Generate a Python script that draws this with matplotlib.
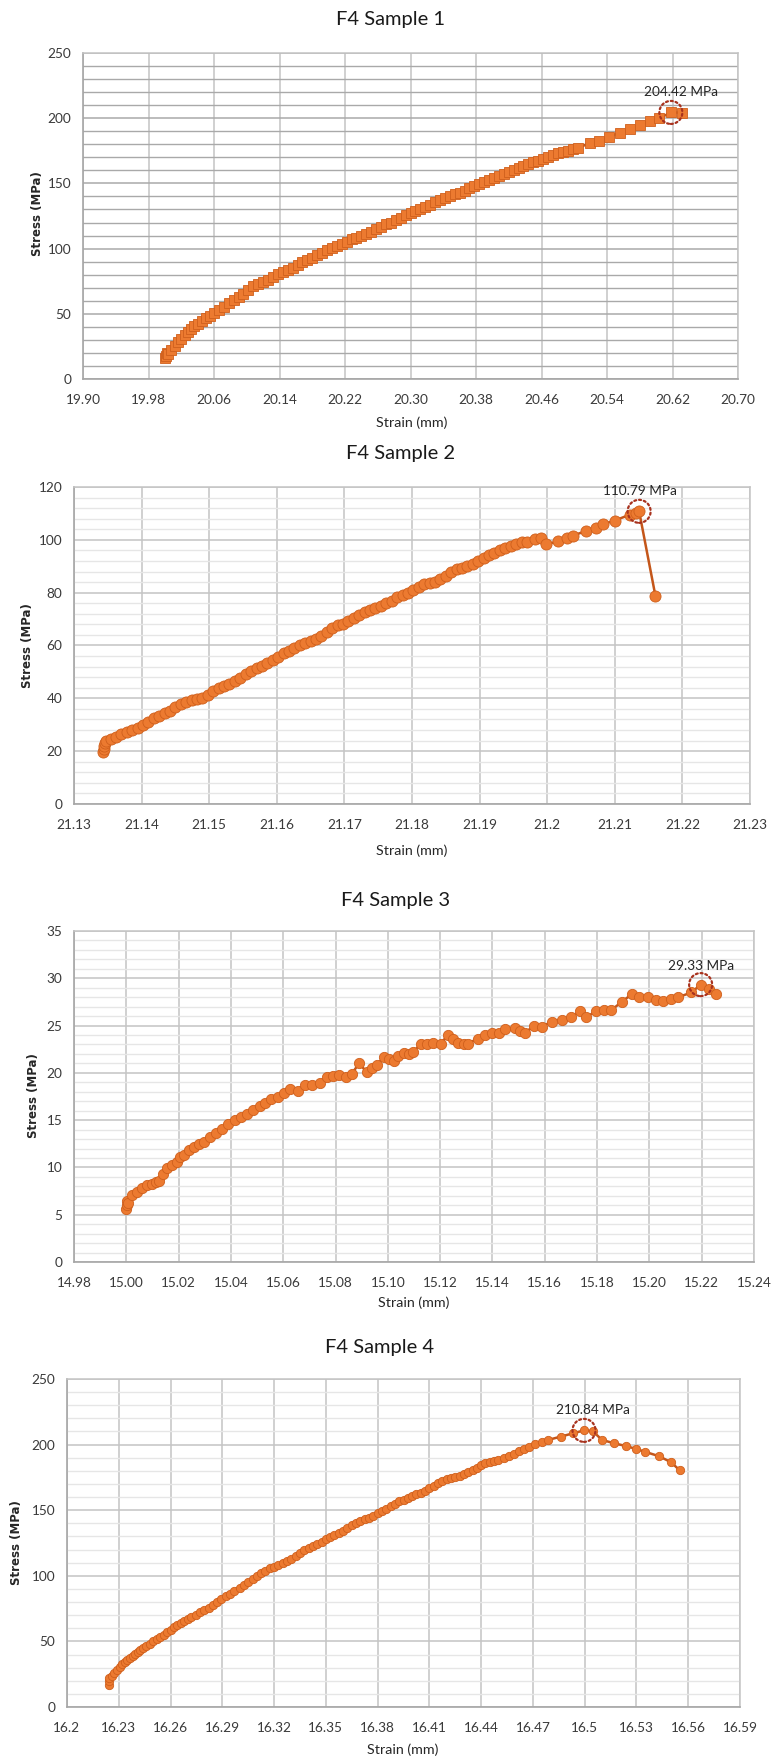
import matplotlib
matplotlib.use("Agg")
import matplotlib.pyplot as plt
import matplotlib.transforms as mtransforms
from matplotlib.patches import Circle
from matplotlib.ticker import MultipleLocator, FixedLocator, FuncFormatter
import numpy as np

# ---------------- data ----------------
titles = ["F4 Sample 1", "F4 Sample 2", "F4 Sample 3", "F4 Sample 4"]
x_label = "Strain (mm)"
y_label = "Stress (MPa)"
peak_labels = ["204.42 MPa", "110.79 MPa", "29.33 MPa", "210.84 MPa"]

s1_strain = [
    20.000, 20.001, 20.002, 20.004, 20.008, 20.012, 20.016, 20.020, 20.024, 20.028,
    20.032, 20.036, 20.040, 20.045, 20.050, 20.055, 20.060, 20.066, 20.072, 20.078,
    20.084, 20.090, 20.096, 20.102, 20.108, 20.114, 20.120, 20.126, 20.132, 20.138,
    20.144, 20.150, 20.156, 20.162, 20.168, 20.174, 20.180, 20.186, 20.192, 20.198,
    20.204, 20.210, 20.216, 20.222, 20.228, 20.234, 20.240, 20.246, 20.252, 20.258,
    20.264, 20.270, 20.276, 20.282, 20.288, 20.294, 20.300, 20.306, 20.312, 20.318,
    20.324, 20.330, 20.336, 20.342, 20.348, 20.354, 20.360, 20.366, 20.372, 20.378,
    20.384, 20.390, 20.396, 20.402, 20.408, 20.414, 20.420, 20.426, 20.432, 20.438,
    20.444, 20.450, 20.456, 20.462, 20.468, 20.474, 20.480, 20.486, 20.492, 20.498,
    20.505, 20.519, 20.530, 20.543, 20.556, 20.568, 20.580, 20.592, 20.604, 20.618,
    20.631,
]
s1_stress = [
    16.0, 18.0, 20.0, 19.0, 22.0, 25.0, 28.0, 31.0, 33.5, 36.0,
    38.5, 40.5, 42.0, 44.5, 46.5, 48.5, 50.5, 53.0, 55.5, 58.0,
    60.5, 63.0, 65.5, 68.0, 71.0, 73.0, 74.5, 76.0, 78.0, 80.5,
    82.0, 83.5, 85.5, 87.5, 90.0, 91.5, 93.0, 95.0, 97.0, 99.0,
    100.5, 102.0, 103.5, 105.0, 107.0, 108.5, 110.0, 111.5, 113.0, 115.0,
    116.5, 118.5, 120.0, 122.0, 123.5, 125.5, 127.0, 128.5, 130.5, 132.0,
    133.5, 135.5, 137.0, 138.5, 140.0, 141.5, 143.0, 144.5, 146.5, 148.0,
    149.5, 151.0, 152.5, 154.0, 155.5, 157.5, 159.0, 160.5, 162.0, 163.5,
    165.0, 166.5, 167.5, 169.0, 170.5, 171.5, 173.0, 174.0, 175.0, 176.0,
    177.0, 181.2, 182.7, 185.8, 188.9, 192.0, 194.8, 198.1, 199.9, 204.42,
    204.3,
]

s2_strain = [
    21.1343, 21.1344, 21.1345, 21.1346, 21.1348, 21.1355, 21.1362, 21.1370, 21.1378, 21.1386,
    21.1394, 21.1402, 21.1410, 21.1418, 21.1426, 21.1434, 21.1442, 21.1450, 21.1458, 21.1466,
    21.1474, 21.1482, 21.1490, 21.1498, 21.1506, 21.1514, 21.1522, 21.1530, 21.1538, 21.1546,
    21.1554, 21.1562, 21.1570, 21.1578, 21.1586, 21.1594, 21.1602, 21.1610, 21.1618, 21.1626,
    21.1634, 21.1642, 21.1650, 21.1658, 21.1666, 21.1674, 21.1682, 21.1690, 21.1698, 21.1706,
    21.1714, 21.1722, 21.1730, 21.1738, 21.1746, 21.1754, 21.1762, 21.1770, 21.1778, 21.1786,
    21.1794, 21.1802, 21.1810, 21.1818, 21.1826, 21.1834, 21.1842, 21.1850, 21.1858, 21.1866,
    21.1874, 21.1882, 21.1890, 21.1898, 21.1906, 21.1914, 21.1922, 21.1930, 21.1938, 21.1946,
    21.1954, 21.1962, 21.1970, 21.1982, 21.1991, 21.1998, 21.2016, 21.2030, 21.2038, 21.2058,
    21.2072, 21.2082, 21.2100, 21.2122, 21.2131, 21.2136, 21.2160,
]
s2_stress = [
    19.6, 20.8, 22.0, 23.2, 24.0, 24.6, 25.5, 26.4, 27.3, 28.0,
    28.6, 29.8, 31.2, 32.4, 33.4, 34.3, 35.2, 36.6, 37.7, 38.5,
    39.2, 39.8, 40.3, 41.2, 42.8, 43.8, 44.5, 45.4, 46.5, 47.8,
    49.2, 50.3, 51.3, 52.4, 53.5, 54.5, 55.8, 57.0, 58.0, 59.2,
    60.2, 61.0, 61.8, 62.6, 63.5, 65.0, 66.8, 67.6, 68.3, 69.2,
    70.4, 71.6, 72.8, 73.5, 74.2, 75.1, 76.0, 77.0, 78.2, 79.3,
    80.0, 81.0, 82.2, 83.3, 83.8, 84.2, 85.0, 86.3, 87.8, 88.8,
    89.4, 90.2, 91.0, 92.0, 93.2, 94.2, 95.0, 96.0, 97.0, 97.8,
    98.5, 99.0, 99.3, 100.2, 100.7, 98.3, 99.4, 100.6, 101.6, 103.4,
    104.6, 105.9, 107.3, 109.5, 110.1, 110.79, 78.9,
]

s3_strain = [
    15.0000, 15.0001, 15.0002, 15.0005, 15.0023, 15.0040, 15.0060, 15.0080, 15.0098, 15.0115,
    15.0126, 15.0140, 15.0155, 15.0175, 15.0192, 15.0205, 15.0221, 15.0240, 15.0258, 15.0277,
    15.0296, 15.0320, 15.0343, 15.0366, 15.0390, 15.0414, 15.0438, 15.0460, 15.0485, 15.0510,
    15.0532, 15.0555, 15.0580, 15.0602, 15.0626, 15.0655, 15.0683, 15.0710, 15.0740, 15.0768,
    15.0790, 15.0815, 15.0840, 15.0862, 15.0890, 15.0919, 15.0940, 15.0957, 15.0985, 15.1005,
    15.1023, 15.1040, 15.1060, 15.1080, 15.1098, 15.1126, 15.1150, 15.1174, 15.1202, 15.1230,
    15.1250, 15.1268, 15.1290, 15.1306, 15.1343, 15.1372, 15.1400, 15.1425, 15.1447, 15.1485,
    15.1505, 15.1523, 15.1560, 15.1589, 15.1626, 15.1664, 15.1702, 15.1736, 15.1758, 15.1796,
    15.1825, 15.1853, 15.1894, 15.1932, 15.1962, 15.1995, 15.2027, 15.2053, 15.2084, 15.2110,
    15.2161, 15.2196, 15.2228, 15.2256,
]
s3_stress = [
    5.6, 6.0, 6.5, 6.2, 7.1, 7.4, 7.8, 8.1, 8.3, 8.5,
    8.6, 9.3, 9.9, 10.3, 10.6, 11.1, 11.3, 11.8, 12.2, 12.5,
    12.7, 13.2, 13.6, 14.1, 14.6, 15.0, 15.3, 15.7, 16.1, 16.5,
    16.8, 17.2, 17.5, 17.9, 18.3, 18.1, 18.7, 18.7, 18.9, 19.6,
    19.7, 19.8, 19.6, 19.9, 21.0, 20.1, 20.5, 20.8, 21.7, 21.5,
    21.3, 21.8, 22.1, 22.0, 22.2, 23.1, 23.1, 23.2, 23.1, 24.0,
    23.6, 23.2, 23.1, 23.1, 23.6, 24.0, 24.2, 24.2, 24.6, 24.7,
    24.4, 24.2, 25.0, 24.9, 25.4, 25.6, 25.9, 26.5, 25.9, 26.5,
    26.6, 26.6, 27.5, 28.3, 28.05, 28.05, 27.7, 27.6, 27.8, 28.0,
    28.5, 29.33, 28.9, 28.3,
]

s4_strain = [
    16.2243, 16.2244, 16.2246, 16.2260, 16.2275, 16.2290, 16.2305, 16.2320, 16.2335, 16.2350,
    16.2365, 16.2380, 16.2395, 16.2410, 16.2425, 16.2440, 16.2460, 16.2480, 16.2500, 16.2520,
    16.2540, 16.2560, 16.2580, 16.2600, 16.2620, 16.2640, 16.2660, 16.2680, 16.2700, 16.2720,
    16.2745, 16.2770, 16.2795, 16.2820, 16.2845, 16.2870, 16.2895, 16.2920, 16.2945, 16.2970,
    16.3000, 16.3025, 16.3050, 16.3075, 16.3100, 16.3125, 16.3150, 16.3175, 16.3200, 16.3225,
    16.3250, 16.3275, 16.3300, 16.3325, 16.3350, 16.3375, 16.3400, 16.3425, 16.3450, 16.3475,
    16.3500, 16.3525, 16.3550, 16.3575, 16.3600, 16.3625, 16.3650, 16.3675, 16.3700, 16.3725,
    16.3750, 16.3775, 16.3800, 16.3825, 16.3850, 16.3875, 16.3900, 16.3925, 16.3950, 16.3975,
    16.4000, 16.4025, 16.4050, 16.4075, 16.4100, 16.4125, 16.4150, 16.4175, 16.4200, 16.4225,
    16.4250, 16.4275, 16.4300, 16.4325, 16.4350, 16.4375, 16.4400, 16.4425, 16.4450, 16.4475,
    16.4500, 16.4530, 16.4560, 16.4590, 16.4620, 16.4650, 16.4680, 16.4710, 16.4750, 16.4790,
    16.4861, 16.4933, 16.4996, 16.5047, 16.5100, 16.5170, 16.5240, 16.5300, 16.5350, 16.5430,
    16.5500, 16.5550,
]
s4_stress = [
    17.0, 19.5, 22.0, 24.0, 26.0, 28.0, 30.5, 32.5, 34.5, 36.0,
    37.5, 39.0, 40.5, 42.0, 43.3, 44.8, 46.5, 48.3, 50.0, 51.8,
    53.5, 55.2, 57.0, 58.8, 60.6, 62.3, 64.0, 65.8, 67.3, 68.8,
    70.4, 72.2, 74.0, 75.8, 77.8, 80.2, 82.5, 84.6, 86.5, 88.5,
    90.5, 92.8, 95.0, 97.2, 99.8, 101.8, 103.8, 105.6, 107.0, 108.2,
    109.5, 111.2, 113.0, 115.0, 117.5, 119.5, 121.2, 122.8, 124.5, 126.1,
    127.8, 129.5, 130.8, 132.3, 134.5, 136.5, 138.5, 140.0, 141.5, 143.0,
    144.2, 145.5, 147.5, 149.3, 151.0, 153.2, 155.0, 156.8, 158.0, 159.0,
    160.5, 162.0, 163.2, 165.0, 166.6, 168.8, 170.8, 172.6, 173.5, 174.2,
    175.0, 176.2, 177.8, 179.0, 180.3, 182.5, 184.5, 185.8, 186.6, 187.3,
    188.3, 189.8, 191.3, 193.0, 195.0, 196.5, 198.5, 200.2, 202.0, 203.6,
    206.1, 208.6, 210.84, 210.2, 203.6, 201.0, 198.9, 196.6, 194.5, 191.2,
    186.6, 180.5,
]

s1_xticks = [19.90, 19.98, 20.06, 20.14, 20.22, 20.30, 20.38, 20.46, 20.54, 20.62, 20.70]
s2_xticks = [21.13, 21.14, 21.15, 21.16, 21.17, 21.18, 21.19, 21.20, 21.21, 21.22, 21.23]
s3_xticks = [14.98, 15.00, 15.02, 15.04, 15.06, 15.08, 15.10, 15.12, 15.14, 15.16, 15.18,
             15.20, 15.22, 15.24]
s4_xticks = [16.20, 16.23, 16.26, 16.29, 16.32, 16.35, 16.38, 16.41, 16.44, 16.47, 16.50,
             16.53, 16.56, 16.59]

# ---------------- layout / style ----------------
W, H = 771, 1760
fig = plt.figure(figsize=(W / 100, H / 100), dpi=100)
fig.patch.set_facecolor("white")

FONT = ["Lato", "DejaVu Sans"]
ORANGE = "#EC7A30"
ORANGE_EDGE = "#CF5F1C"
LINE = "#C4561A"
RING = "#A8321E"
TEXT = "#3a3a3a"

panels = [
    dict(x=s1_strain, y=s1_stress, title=titles[0], peak=peak_labels[0], xticks=s1_xticks,
         fmt="{:.2f}", ylim=(0, 250), ymajor=50, yminor=10, box=(83, 738, 53, 379),
         title_xy=(390, 20), xlabel_xy=(412, 423), ylabel_xy=(37, 214),
         marker="s", ms=7.0, hgrid="#a9a9a9", hminor="#a9a9a9", text_off=(10, 20)),
    dict(x=s2_strain, y=s2_stress, title=titles[1], peak=peak_labels[1], xticks=s2_xticks,
         fmt="g", ylim=(0, 120), ymajor=20, yminor=4, box=(74, 750, 487, 804),
         title_xy=(401, 453), xlabel_xy=(412, 851), ylabel_xy=(28, 646),
         marker="o", ms=8.0, hgrid="#c4c4c4", hminor="#e6e6e6", text_off=(1, 20)),
    dict(x=s3_strain, y=s3_stress, title=titles[2], peak=peak_labels[2], xticks=s3_xticks,
         fmt="{:.2f}", ylim=(0, 35), ymajor=5, yminor=1, box=(74, 754, 931, 1262),
         title_xy=(396, 900), xlabel_xy=(414, 1303), ylabel_xy=(33, 1096),
         marker="o", ms=7.4, hgrid="#c4c4c4", hminor="#e6e6e6", text_off=(0, 19)),
    dict(x=s4_strain, y=s4_stress, title=titles[3], peak=peak_labels[3], xticks=s4_xticks,
         fmt="g", ylim=(0, 250), ymajor=50, yminor=10, box=(67, 740, 1379, 1707),
         title_xy=(380, 1347), xlabel_xy=(403, 1750), ylabel_xy=(17, 1543),
         marker="o", ms=6.0, hgrid="#c4c4c4", hminor="#e6e6e6", text_off=(9, 20)),
]


def fy(py):
    return 1 - py / H


for p in panels:
    l, r, t, b = p["box"]
    ax = fig.add_axes([l / W, 1 - b / H, (r - l) / W, (b - t) / H])
    ax.set_facecolor("white")

    xt = p["xticks"]
    ax.set_xlim(xt[0], xt[-1])
    ax.set_ylim(*p["ylim"])
    ax.xaxis.set_major_locator(FixedLocator(xt))
    if p["fmt"] == "g":
        ax.xaxis.set_major_formatter(FuncFormatter(lambda v, _: "{:g}".format(round(v, 2))))
    else:
        f = p["fmt"]
        ax.xaxis.set_major_formatter(FuncFormatter(lambda v, _, f=f: f.format(v)))
    ax.yaxis.set_major_locator(MultipleLocator(p["ymajor"]))
    ax.yaxis.set_minor_locator(MultipleLocator(p["yminor"]))
    ax.yaxis.set_major_formatter(FuncFormatter(lambda v, _: "{:d}".format(int(round(v)))))

    ax.grid(which="minor", axis="y", color=p["hminor"], lw=1.0, zorder=0)
    ax.grid(which="major", axis="y", color=p["hgrid"], lw=1.1, zorder=0)
    ax.grid(which="major", axis="x", color="#c4c4c4", lw=1.1, zorder=0)
    ax.set_axisbelow(True)

    for side in ("top", "right"):
        ax.spines[side].set_color("#c4c4c4")
        ax.spines[side].set_linewidth(1.1)
    for side in ("left", "bottom"):
        ax.spines[side].set_color("#a6a6a6")
        ax.spines[side].set_linewidth(1.2)

    ax.tick_params(which="both", length=0)
    ax.tick_params(axis="x", pad=10.5, labelsize=9.8, labelcolor=TEXT)
    ax.tick_params(axis="y", pad=8.5, labelsize=9.8, labelcolor=TEXT)
    for lab in ax.get_xticklabels() + ax.get_yticklabels():
        lab.set_family(FONT)

    ax.plot(p["x"], p["y"], color=LINE, lw=1.8, marker=p["marker"], ms=p["ms"],
            mfc=ORANGE, mec=ORANGE_EDGE, mew=0.6, zorder=3, clip_on=False)

    # peak marker: dotted ring plus value label
    yarr = np.asarray(p["y"])
    k = int(np.argmax(yarr))
    px, py = p["x"][k], p["y"][k]
    ring_tr = mtransforms.IdentityTransform() + mtransforms.ScaledTranslation(px, py, ax.transData)
    ring = Circle((0, 0), radius=11.5, transform=ring_tr, fill=False, edgecolor=RING,
                  lw=1.6, linestyle=(0, (0.9, 1.3)), capstyle="round", zorder=5, clip_on=False)
    ax.add_patch(ring)
    ax.annotate(p["peak"], xy=(px, py), xytext=p["text_off"], textcoords="offset pixels",
                ha="center", va="center", fontsize=9.8, family=FONT, color="#262626", zorder=6)

    # titles and axis labels
    fig.text(p["title_xy"][0] / W, fy(p["title_xy"][1]), p["title"], ha="center", va="center",
             fontsize=14.5, family=FONT, color="#1a1a1a")
    fig.text(p["xlabel_xy"][0] / W, fy(p["xlabel_xy"][1]), x_label, ha="center", va="center",
             fontsize=10.3, family=FONT, color="#262626")
    fig.text(p["ylabel_xy"][0] / W, fy(p["ylabel_xy"][1]), y_label, ha="center", va="center",
             rotation=90, fontsize=8.5, family=["DejaVu Sans"], fontweight="bold", color="#262626")

fig.savefig("out.png", dpi=100, facecolor="white")
